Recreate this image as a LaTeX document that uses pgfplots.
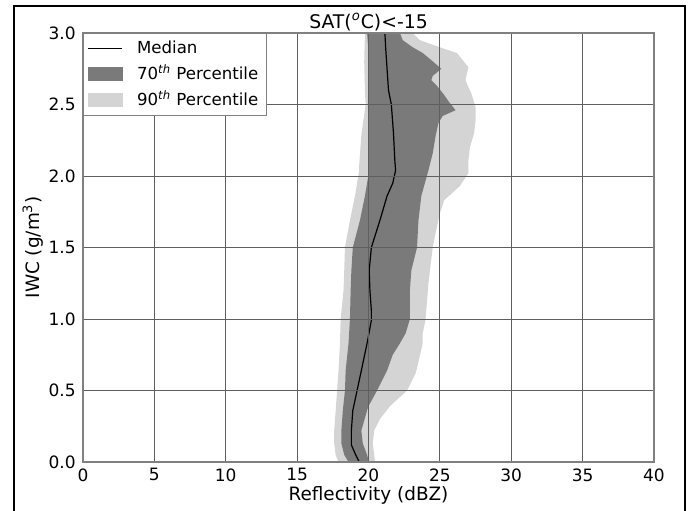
\documentclass[border=0pt]{standalone}
\usepackage{fontspec}
\setmainfont{DejaVu Sans}
\usepackage{pgfplots}
\pgfplotsset{compat=1.18}
\definecolor{darkband}{RGB}{122,122,122}
\definecolor{lightband}{RGB}{212,212,212}
\definecolor{gridc}{RGB}{95,95,95}
\definecolor{axc}{RGB}{128,128,128}

\begin{document}
\begin{tikzpicture}[font=\fontsize{8.5pt}{10pt}\selectfont]
\path[use as bounding box] (0,0) rectangle (346pt,255pt);
\begin{axis}[
  at={(41.5pt,24pt)}, anchor=south west, scale only axis,
  width=285.5pt, height=214.5pt,
  xmin=0, xmax=40, ymin=0, ymax=3,
  xtick={0,5,10,15,20,25,30,35,40},
  ytick={0,0.5,1,1.5,2,2.5,3},
  grid=major, major grid style={gridc, line width=0.5pt},
  axis line style={axc, line width=0.7pt},
  major tick length=0pt,
  axis on top,
  /pgf/number format/assume math mode=true,
  yticklabel style={/pgf/number format/fixed, /pgf/number format/fixed zerofill,
    /pgf/number format/precision=1, inner sep=0pt, xshift=-3.5pt},
  xticklabel style={inner sep=0pt, yshift=-3pt},
  title={SAT(\textsuperscript{\textit{o}}C)<-15},
  every axis title/.style={at={(axis description cs:0.5,1)}, anchor=base, yshift=2.5pt,
    inner sep=0pt, font=\fontsize{9.4pt}{10pt}\selectfont},
  xlabel={Reflectivity (dBZ)},
  xlabel style={at={(axis description cs:0.5,0)}, anchor=base, yshift=-19pt,
    inner sep=0pt, font=\fontsize{9.2pt}{10pt}\selectfont},
  ylabel={IWC (g/m\textsuperscript{3})},
  ylabel style={at={(axis description cs:-0.0876,0.5)}, anchor=center,
    inner sep=0pt, font=\fontsize{9.2pt}{10pt}\selectfont},
  legend cell align=left,
  legend style={at={(axis description cs:0,1)}, anchor=north west,
    draw=axc, line width=0.7pt, fill=white,
    font=\fontsize{8.3pt}{9pt}\selectfont,
    inner xsep=2pt, inner ysep=1.5pt, row sep=0.3pt},
]
\addlegendimage{legend image code/.code={\draw[black, line width=0.6pt] (0pt,0pt) -- (17pt,0pt); \path (22pt,0pt);}}
\addlegendentry{Median}
\addlegendimage{legend image code/.code={\fill[darkband] (0pt,-3.2pt) rectangle (17pt,3.2pt); \path (22pt,0pt);}}
\addlegendentry{70\textsuperscript{\textit{th}} Percentile}
\addlegendimage{legend image code/.code={\fill[lightband] (0pt,-3.2pt) rectangle (17pt,3.2pt); \path (22pt,0pt);}}
\addlegendentry{90\textsuperscript{\textit{th}} Percentile}

% 90th percentile band (left edge upward, right edge downward)
\addplot[fill=lightband, draw=none, forget plot] table {
x y
17.9 0.00
17.7 0.05
17.6 0.13
17.6 0.22
17.7 0.36
17.8 0.50
17.9 0.64
18.0 0.83
18.05 1.00
18.25 1.20
18.3 1.34
18.35 1.50
18.7 1.69
19.05 1.86
19.35 2.04
19.35 2.08
19.5 2.29
19.8 2.50
19.75 2.59
19.7 2.80
19.75 3.00
23.1 3.00
23.6 2.95
25.0 2.90
26.2 2.86
26.6 2.81
27.0 2.76
26.9 2.72
26.8 2.67
27.0 2.62
27.2 2.58
27.5 2.48
27.5 2.39
27.4 2.30
27.1 2.20
27.0 2.11
27.0 2.02
26.4 1.93
25.3 1.83
25.0 1.74
24.7 1.60
24.5 1.50
24.2 1.25
24.0 1.00
23.8 0.90
23.8 0.83
23.5 0.70
23.3 0.62
22.7 0.50
21.5 0.39
20.8 0.30
20.4 0.22
20.3 0.13
20.4 0.05
20.45 0.00
};

% 70th percentile band
\addplot[fill=darkband, draw=none, forget plot] table {
x y
18.6 0.00
18.3 0.05
18.1 0.13
18.1 0.22
18.2 0.36
18.35 0.50
18.4 0.64
18.6 0.83
18.7 1.00
18.75 1.20
18.8 1.34
18.9 1.50
19.4 1.69
19.75 1.86
20.05 2.04
20.05 2.50
20.05 2.80
19.9 3.00
22.2 3.00
22.4 2.95
23.1 2.90
23.8 2.86
24.4 2.81
25.1 2.75
24.5 2.70
24.4 2.67
24.8 2.63
25.2 2.58
25.7 2.51
26.1 2.46
25.2 2.42
24.9 2.37
24.7 2.28
24.5 2.16
24.2 2.04
23.7 1.86
23.5 1.69
23.4 1.50
23.0 1.34
22.9 1.20
22.9 1.00
22.6 0.90
22.2 0.83
21.7 0.75
21.3 0.64
20.6 0.50
20.0 0.39
19.9 0.36
19.5 0.22
19.6 0.13
19.9 0.05
20.05 0.00
};

% median
\addplot[black, line width=0.6pt, forget plot] table {
x y
19.35 0.00
19.1 0.05
18.8 0.12
18.8 0.22
18.9 0.36
19.2 0.50
19.5 0.64
19.9 0.83
20.2 0.99
20.2 1.06
20.1 1.20
20.05 1.34
20.2 1.50
20.8 1.69
21.3 1.86
21.7 1.95
21.9 2.04
21.85 2.10
21.75 2.30
21.6 2.50
21.4 2.60
21.2 2.90
21.15 3.00
};
\end{axis}
\draw[black, line width=1pt] (7pt,-2pt) -- (7pt,252pt) -- (342.5pt,252pt) -- (342.5pt,-2pt);
\end{tikzpicture}
\end{document}
